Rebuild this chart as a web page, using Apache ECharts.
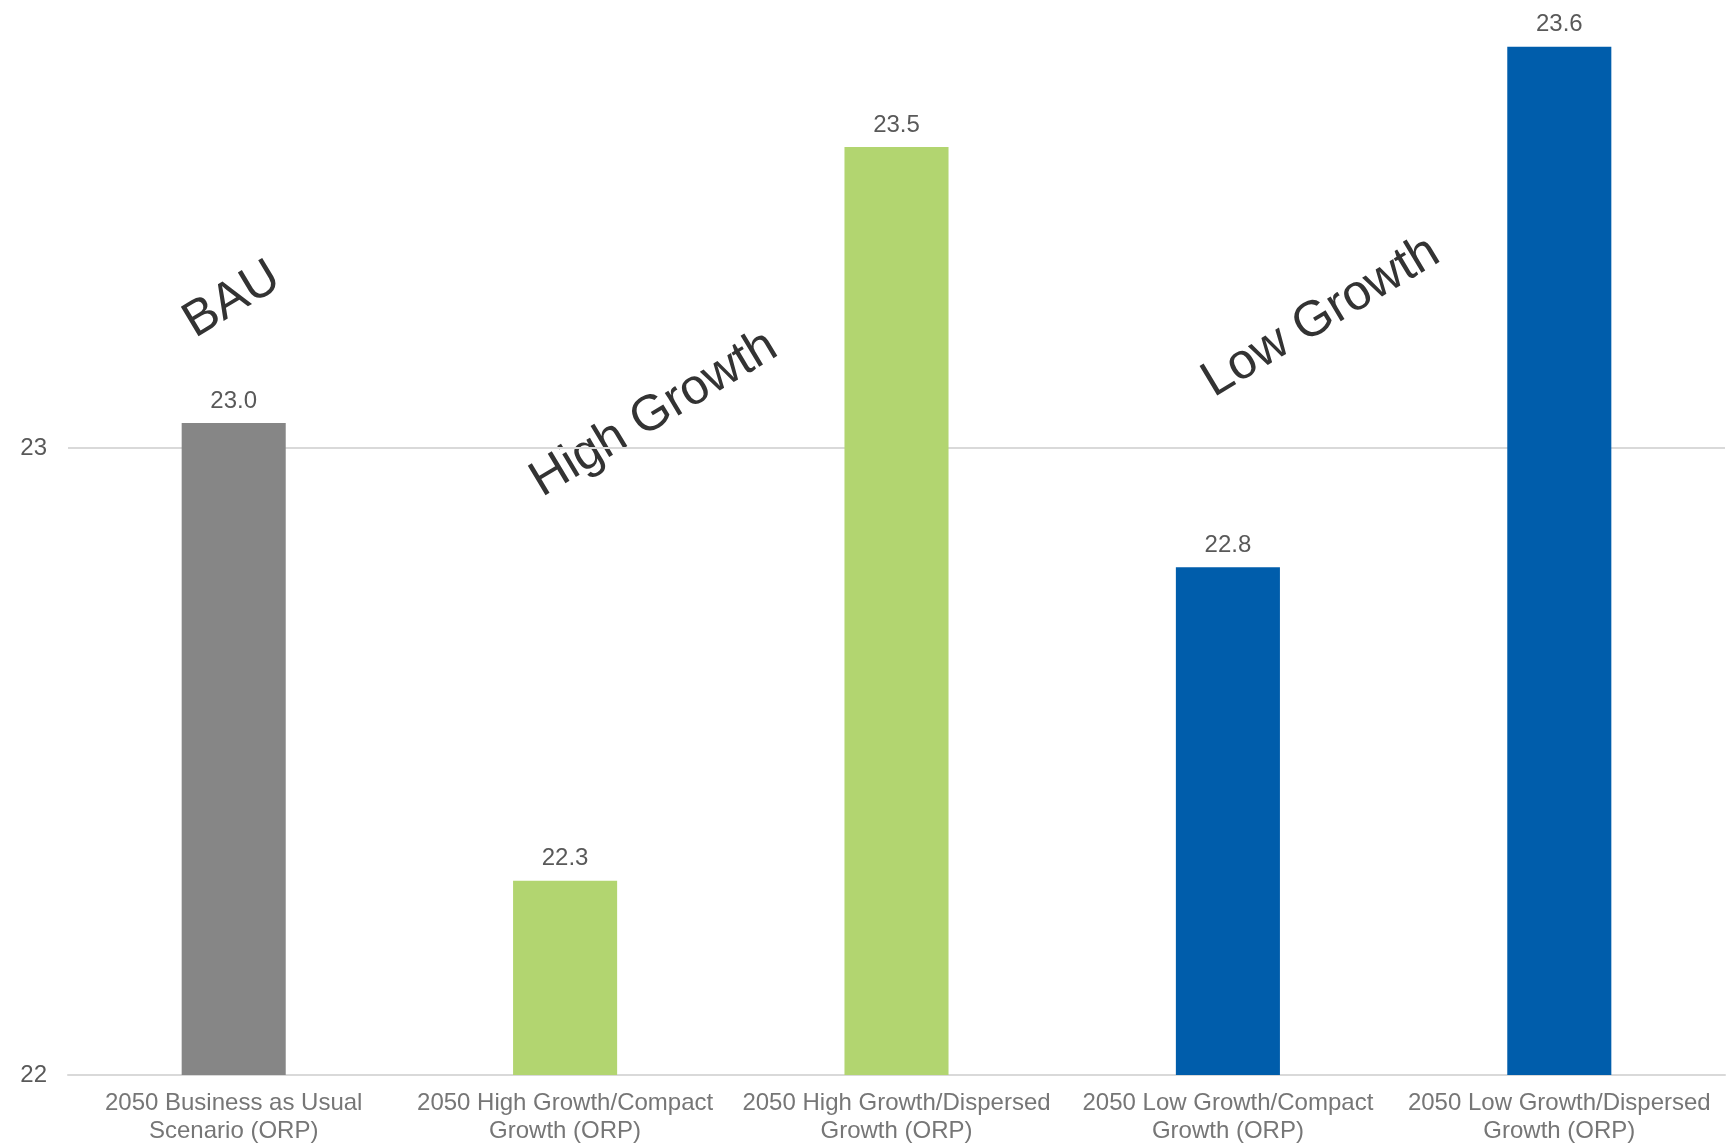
<!DOCTYPE html>
<html><head><meta charset="utf-8">
<script src="https://cdn.jsdelivr.net/npm/echarts@6/dist/echarts.min.js"></script>
<style>html,body{margin:0;padding:0;background:#fff;overflow:hidden;width:1730px;height:1145px}
#wrap{position:relative;width:1730px;height:1145px;overflow:hidden}
#c{position:absolute;left:0;top:-179px;width:1730px;height:1324px}</style>
</head><body><div id="wrap"><div id="c"></div></div>
<script>
const categories = [
  "2050 Business as Usual\nScenario (ORP)",
  "2050 High Growth/Compact\nGrowth (ORP)",
  "2050 High Growth/Dispersed\nGrowth (ORP)",
  "2050 Low Growth/Compact\nGrowth (ORP)",
  "2050 Low Growth/Dispersed\nGrowth (ORP)"
];
const values = [23.04, 22.31, 23.48, 22.81, 23.64];
const barColors = ["#868686", "#b2d570", "#005dab"];
const barColorIndex = [0, 1, 1, 2, 2];
const annotations = ["BAU", "High Growth", "Low Growth"];

const OFF = 179;
const chart = echarts.init(document.getElementById('c'));
const FONT = 'Liberation Sans, Arial, sans-serif';
const rot = 31 * Math.PI / 180;
chart.setOption({
  animation: false,
  grid: { left: 68, right: 5, top: 0, bottom: 70, containLabel: false, outerBoundsMode: 'none' },
  xAxis: {
    type: 'category', data: categories,
    axisLine: { lineStyle: { color: '#d9d9d9', width: 2 } },
    axisTick: { show: false },
    axisLabel: { color: '#767676', fontSize: 24, fontFamily: FONT, lineHeight: 28, margin: 14, interval: 0 }
  },
  yAxis: {
    type: 'value', min: 22, max: 24, interval: 1,
    axisLine: { show: false }, axisTick: { show: false },
    axisLabel: { color: '#595959', fontSize: 24, fontFamily: FONT, margin: 21 },
    splitLine: { lineStyle: { color: '#d9d9d9', width: 2 } }
  },
  series: [{
    type: 'bar', barWidth: '31.4%',
    data: values.map((v, i) => ({ value: v, itemStyle: { color: barColors[barColorIndex[i]] } })),
    label: { show: true, position: 'top', distance: 10, color: '#595959', fontSize: 24, fontFamily: FONT,
      formatter: p => p.value.toFixed(1) }
  }],
  graphic: [
    { type: 'text', x: 232, y: 300 + OFF, rotation: rot, style: { text: annotations[0], fill: '#333', font: '50px ' + FONT, textAlign: 'center', textVerticalAlign: 'middle' } },
    { type: 'text', x: 654, y: 414 + OFF, rotation: rot, style: { text: annotations[1], fill: '#333', font: '50px ' + FONT, textAlign: 'center', textVerticalAlign: 'middle' } },
    { type: 'text', x: 1321, y: 317 + OFF, rotation: rot, style: { text: annotations[2], fill: '#333', font: '50px ' + FONT, textAlign: 'center', textVerticalAlign: 'middle' } }
  ]
});
</script></body></html>
